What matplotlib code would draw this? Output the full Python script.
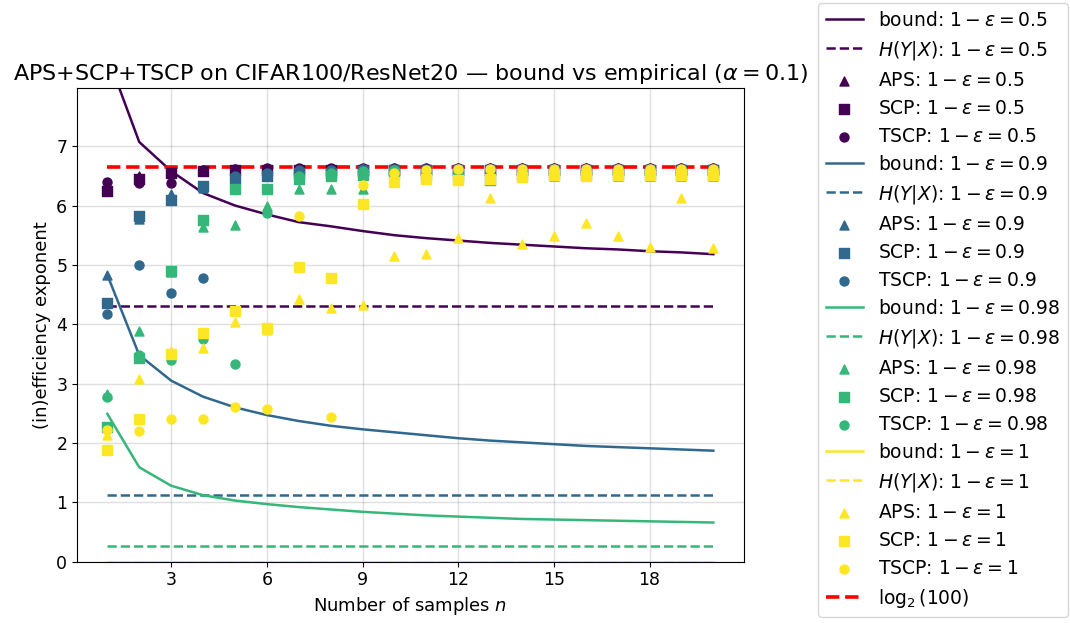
import numpy as np
import matplotlib
matplotlib.use('Agg')
import matplotlib.pyplot as plt
from matplotlib.ticker import MultipleLocator

# sample sizes
n_vals = np.arange(1, 21)
levels = ['0.5', '0.9', '0.98', '1']

# theoretical bound per coverage level
bound_05 = [8.52, 7.07, 6.58, 6.21, 6.00, 5.85, 5.72, 5.65, 5.57, 5.50,
            5.45, 5.41, 5.37, 5.34, 5.31, 5.28, 5.26, 5.23, 5.21, 5.18]
bound_09 = [4.83, 3.48, 3.05, 2.78, 2.60, 2.47, 2.37, 2.29, 2.23, 2.18,
            2.13, 2.08, 2.04, 2.01, 1.98, 1.95, 1.93, 1.91, 1.89, 1.87]
bound_098 = [2.49, 1.59, 1.28, 1.12, 1.03, 0.97, 0.92, 0.88, 0.84, 0.81,
             0.78, 0.76, 0.74, 0.72, 0.71, 0.70, 0.69, 0.68, 0.67, 0.66]
bound_1 = [0.0] * 20

# conditional entropy H(Y|X) per level
h_cond = [4.30, 1.13, 0.27, 0.0]

# empirical exponents
aps_05 = [6.28, 6.50, 6.55, 6.60, 6.62, 6.62, 6.62, 6.62, 6.62, 6.63,
          6.63, 6.63, 6.63, 6.63, 6.63, 6.63, 6.63, 6.63, 6.63, 6.63]
scp_05 = [6.25, 6.45, 6.55, 6.58, 6.60, 6.60, 6.60, 6.60, 6.60, 6.60,
          6.60, 6.60, 6.60, 6.60, 6.60, 6.60, 6.60, 6.60, 6.60, 6.60]
tscp_05 = [6.40, 6.38, 6.38, 6.60, 6.62, 6.63, 6.63, 6.63, 6.63, 6.63,
           6.63, 6.63, 6.63, 6.63, 6.63, 6.63, 6.63, 6.63, 6.63, 6.63]

aps_09 = [4.83, 5.78, 6.20, 6.30, 6.45, 6.50, 6.55, 6.58, 6.60, 6.60,
          6.60, 6.60, 6.60, 6.60, 6.60, 6.60, 6.60, 6.60, 6.60, 6.60]
scp_09 = [4.35, 5.83, 6.10, 6.33, 6.45, 6.50, 6.55, 6.55, 6.58, 6.60,
          6.60, 6.60, 6.60, 6.60, 6.60, 6.60, 6.60, 6.60, 6.60, 6.60]
tscp_09 = [4.18, 5.00, 4.52, 4.78, 6.50, 6.55, 6.60, 6.60, 6.62, 6.62,
           6.62, 6.62, 6.62, 6.62, 6.62, 6.62, 6.62, 6.62, 6.62, 6.62]

aps_098 = [2.83, 3.88, 4.88, 5.63, 5.68, 6.00, 6.27, 6.27, 6.28, 6.45,
           6.50, 6.50, 6.45, 6.50, 6.50, 6.50, 6.50, 6.50, 6.50, 6.50]
scp_098 = [2.27, 3.43, 4.90, 5.75, 6.27, 6.27, 6.45, 6.50, 6.52, 6.55,
           6.52, 6.50, 6.43, 6.52, 6.52, 6.52, 6.52, 6.52, 6.52, 6.52]
tscp_098 = [2.78, 3.48, 3.40, 3.75, 3.33, 5.88, 6.50, 6.55, 6.58, 6.60,
            6.60, 6.60, 6.60, 6.60, 6.60, 6.60, 6.60, 6.60, 6.60, 6.60]

aps_1 = [2.13, 3.07, 3.55, 3.60, 4.03, 3.90, 4.43, 4.28, 4.32, 5.15,
         5.18, 5.45, 6.13, 5.35, 5.48, 5.70, 5.48, 5.30, 6.13, 5.28]
scp_1 = [1.88, 2.40, 3.50, 3.85, 4.22, 3.93, 4.97, 4.78, 6.03, 6.39,
         6.45, 6.43, 6.45, 6.48, 6.52, 6.50, 6.52, 6.52, 6.52, 6.52]
tscp_1 = [2.22, 2.20, 2.40, 2.40, 2.60, 2.58, 5.83, 2.43, 6.35, 6.55,
          6.60, 6.62, 6.62, 6.62, 6.62, 6.62, 6.62, 6.62, 6.62, 6.62]

bounds = [bound_05, bound_09, bound_098, bound_1]
aps = [aps_05, aps_09, aps_098, aps_1]
scp = [scp_05, scp_09, scp_098, scp_1]
tscp = [tscp_05, tscp_09, tscp_098, tscp_1]

log_k = np.log2(100)

fig = plt.figure(figsize=(10.7, 6.23), dpi=100)
ax = fig.add_axes([0.072, 0.0984, 0.623, 0.7604])

colors = plt.cm.viridis(np.linspace(0, 1, 4))
s_mark = 42
lw = 1.8

for i, lev in enumerate(levels):
  c = colors[i]
  tag = r'$1-\varepsilon=' + lev + '$'
  ax.plot(n_vals, bounds[i], color=c, lw=lw, label='bound: ' + tag)
  ax.plot(n_vals, [h_cond[i]] * len(n_vals), color=c, lw=lw, ls='--',
          label=r'$H(Y|X)$: ' + tag)
  ax.scatter(n_vals, aps[i], color=c, marker='^', s=s_mark, zorder=3, label='APS: ' + tag)
  ax.scatter(n_vals, scp[i], color=c, marker='s', s=s_mark, zorder=3, label='SCP: ' + tag)
  ax.scatter(n_vals, tscp[i], color=c, marker='o', s=s_mark, zorder=3, label='TSCP: ' + tag)

ax.plot(n_vals, [log_k] * len(n_vals), color='red', lw=2.6, ls='--', zorder=2.2,
        label=r'$\log_2(100)$')

ax.set_ylim(0, 7.98)
ax.xaxis.set_major_locator(MultipleLocator(3))
ax.yaxis.set_major_locator(MultipleLocator(1))
ax.grid(color='gray', alpha=0.25, lw=1.0)
ax.tick_params(labelsize=12.5)
ax.set_xlabel(r'Number of samples $n$', fontsize=13)
ax.set_ylabel('(in)efficiency exponent', fontsize=13)
ax.set_title(r'APS+SCP+TSCP on CIFAR100/ResNet20 — bound vs empirical ($\alpha=0.1$)',
             fontsize=16)

fig.legend(loc='upper left', bbox_to_anchor=(818 / 1070, 1 - 3 / 623),
           borderaxespad=0, fontsize=13.5, labelspacing=0.48, markerscale=1.0)

fig.savefig('out.png', dpi=100)
